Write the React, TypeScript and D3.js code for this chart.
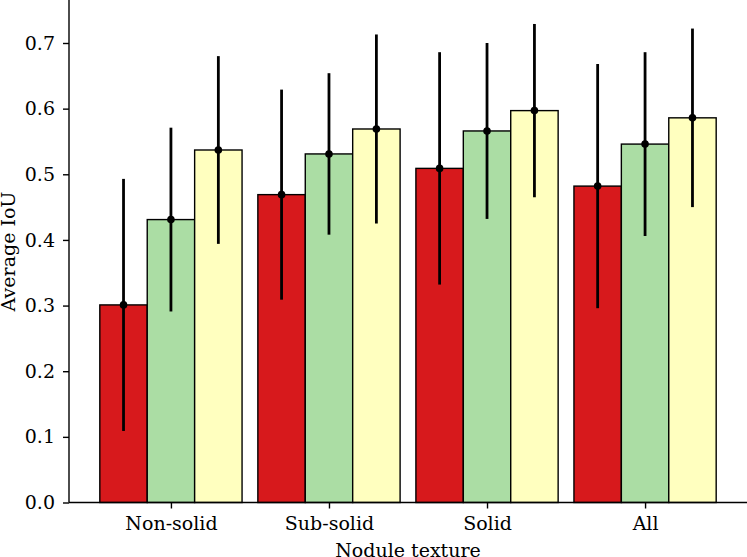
import React, { useEffect, useRef } from "react";
import * as d3 from "d3";

const categories = ["Non-solid", "Sub-solid", "Solid", "All"];
const seriesNames = ["red", "green", "yellow"];
const colors = ["#d7191c", "#abdda4", "#ffffbf"];

// mean IoU per texture, one array per series
const redMeans = [0.301, 0.469, 0.509, 0.482];
const greenMeans = [0.431, 0.531, 0.566, 0.546];
const yellowMeans = [0.537, 0.569, 0.597, 0.586];

// std (symmetric error bars)
const redErr = [0.192, 0.16, 0.177, 0.186];
const greenErr = [0.14, 0.123, 0.134, 0.14];
const yellowErr = [0.143, 0.144, 0.132, 0.136];

const yTicks = [0, 0.1, 0.2, 0.3, 0.4, 0.5, 0.6, 0.7];

export default function App() {
  const ref = useRef<SVGSVGElement>(null);
  const width = 747;
  const height = 557;

  useEffect(() => {
    const svg = d3.select(ref.current);
    svg.selectAll("*").remove();

    const means = [redMeans, greenMeans, yellowMeans];
    const errs = [redErr, greenErr, yellowErr];
    const barW = 0.3;

    const x = d3.scaleLinear().domain([-0.645, 3.645]).range([69, 747]);
    const y = d3.scaleLinear().domain([0, 0.7]).range([502.5, 43]);

    const font = "'DejaVu Serif', serif";
    const fs = 19;

    // bars
    seriesNames.forEach((name, s) => {
      const g = svg.append("g").attr("class", "series-" + name);
      g.selectAll("rect")
        .data(means[s])
        .join("rect")
        .attr("x", (d, i) => x(i + (s - 1) * barW - barW / 2))
        .attr("width", x(barW) - x(0))
        .attr("y", (d) => y(d))
        .attr("height", (d) => y(0) - y(d))
        .attr("fill", colors[s])
        .attr("stroke", "#000")
        .attr("stroke-width", 1.4);
    });

    // error bars on top
    seriesNames.forEach((name, s) => {
      const g = svg.append("g");
      const cx = (i: number) => x(i + (s - 1) * barW);
      g.selectAll("line")
        .data(means[s])
        .join("line")
        .attr("x1", (d, i) => cx(i))
        .attr("x2", (d, i) => cx(i))
        .attr("y1", (d, i) => y(d - errs[s][i]))
        .attr("y2", (d, i) => y(d + errs[s][i]))
        .attr("stroke", "#000")
        .attr("stroke-width", 2.8);
      g.selectAll("circle")
        .data(means[s])
        .join("circle")
        .attr("cx", (d, i) => cx(i))
        .attr("cy", (d) => y(d))
        .attr("r", 3.8)
        .attr("fill", "#000");
    });

    // y axis
    const yAxis = svg
      .append("g")
      .attr("transform", `translate(${x(-0.645)},0)`)
      .call(
        d3
          .axisLeft(y)
          .tickValues(yTicks)
          .tickFormat(d3.format(".1f"))
          .tickSize(6)
          .tickPadding(8)
      );
    yAxis.select(".domain").attr("d", `M0,${y(0)}V-10`).attr("stroke-width", 1.4);
    yAxis.selectAll(".tick line").attr("stroke-width", 1.4);
    yAxis
      .selectAll(".tick text")
      .attr("font-family", font)
      .attr("font-size", fs)
      .attr("fill", "#000");

    // x axis
    const xAxis = svg
      .append("g")
      .attr("transform", `translate(0,${y(0)})`)
      .call(
        d3
          .axisBottom(x)
          .tickValues([0, 1, 2, 3])
          .tickFormat((d) => categories[d as number])
          .tickSize(6)
          .tickPadding(8)
      );
    xAxis.select(".domain").attr("d", `M${x(-0.645)},0H${width + 10}`).attr("stroke-width", 1.4);
    xAxis.selectAll(".tick line").attr("stroke-width", 1.4);
    xAxis
      .selectAll(".tick text")
      .attr("font-family", font)
      .attr("font-size", fs)
      .attr("fill", "#000");

    // axis labels
    svg
      .append("text")
      .attr("x", (x(-0.645) + width) / 2)
      .attr("y", 557)
      .attr("text-anchor", "middle")
      .attr("font-family", font)
      .attr("font-size", fs)
      .text("Nodule texture");

    svg
      .append("text")
      .attr("transform", `translate(15,251.5) rotate(-90)`)
      .attr("text-anchor", "middle")
      .attr("font-family", font)
      .attr("font-size", fs)
      .text("Average IoU");
  }, []);

  return (
    <svg
      ref={ref}
      width={width}
      height={height}
      style={{ position: "absolute", left: 0, top: 0, background: "#fff" }}
    />
  );
}
